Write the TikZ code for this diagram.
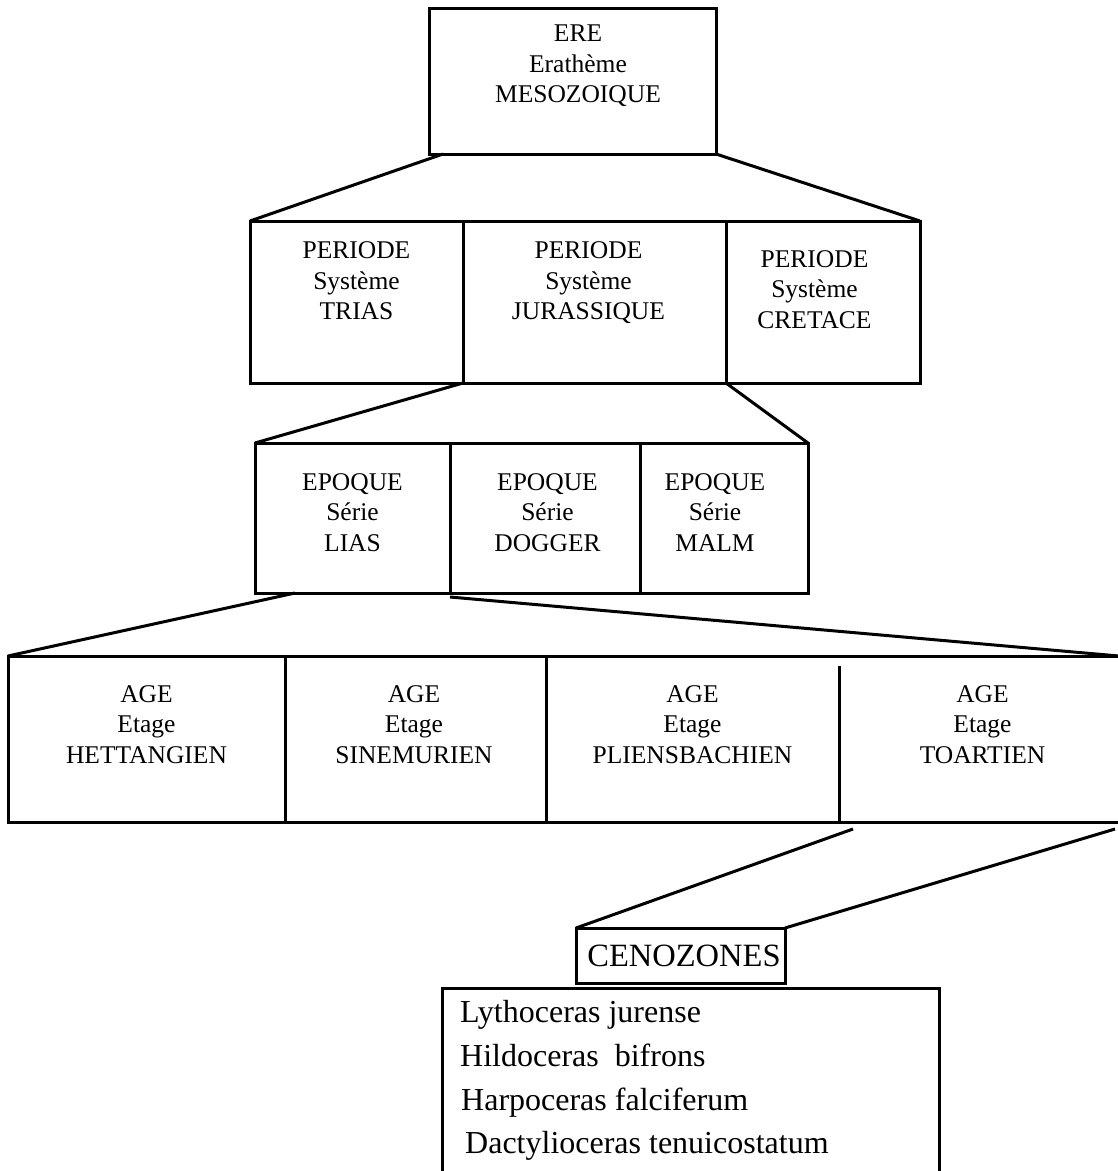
\documentclass[tikz,border=0pt]{standalone}
\usepackage{fontspec}
\setmainfont{Liberation Serif}
\usetikzlibrary{positioning}
\definecolor{inkblack}{RGB}{0,0,0}
\tikzset{
  cell/.style ={rectangle, draw=inkblack, line width=3pt, anchor=north west, inner sep=0pt, outer sep=0pt},
  bare/.style ={rectangle, anchor=north west, inner sep=0pt, outer sep=0pt},
  lbl/.style  ={align=center, inner sep=0pt, text=inkblack, font=\fontsize{25.5}{30.5}\selectfont},
  zone/.style ={rectangle, draw=inkblack, line width=3pt, inner sep=0pt, outer sep=0pt, font=\fontsize{32.5}{39}\selectfont},
  taxon/.style={anchor=base west, inner sep=0pt, font=\fontsize{32}{38}\selectfont},
  link/.style ={draw=inkblack, line width=3pt},
}
\begin{document}
\begin{tikzpicture}[x=1pt, y=-1pt]
\useasboundingbox (0,0) rectangle (1118,1171);
% era
\node[cell, minimum width=287, minimum height=146] (ere) at (429,8) {};
\node[lbl, below=17pt of ere.north, xshift=5.5pt] (ere-t) {ERE\\Erathème\\MESOZOIQUE};
% periods
\node[cell, minimum width=213, minimum height=162] (trias) at (250,221) {};
\node[cell, minimum width=263, minimum height=162] (jur) at (463,221) {};
\node[cell, minimum width=194, minimum height=162] (cret) at (726,221) {};
\node[lbl, below=20.5pt of trias.north] (trias-t) {PERIODE\\Système\\TRIAS};
\node[lbl, below=20.5pt of jur.north, xshift=-6pt] (jur-t) {PERIODE\\Système\\JURASSIQUE};
\node[lbl, below=29pt of cret.north, xshift=-8.5pt] (cret-t) {PERIODE\\Système\\CRETACE};
% epochs
\node[cell, minimum width=195, minimum height=150] (lias) at (255,443) {};
\node[cell, minimum width=190, minimum height=150] (dogger) at (450,443) {};
\node[cell, minimum width=168, minimum height=150] (malm) at (640,443) {};
\node[lbl, below=30pt of lias.north] (lias-t) {EPOQUE\\Série\\LIAS};
\node[lbl, below=30pt of dogger.north, xshift=2.5pt] (dogger-t) {EPOQUE\\Série\\DOGGER};
\node[lbl, below=30pt of malm.north, xshift=-9pt] (malm-t) {EPOQUE\\Série\\MALM};
% ages
\node[cell, minimum width=277, minimum height=166] (hett) at (8,656) {};
\node[cell, minimum width=261, minimum height=166] (sine) at (285,656) {};
\node[bare, minimum width=293, minimum height=166] (plie) at (546,656) {};
\node[bare, minimum width=280, minimum height=166] (toar) at (839,656) {};
\draw[link] (plie.north east) -- (plie.north west) -- (plie.south west) -- (plie.south east);
\draw[link] (toar.north west) -- (toar.north east);
\draw[link] (toar.south west) -- (toar.south east);
\draw[link] ([yshift=-10pt]toar.north west) -- (toar.south west);
\node[lbl, below=29pt of hett.north] (hett-t) {AGE\\Etage\\HETTANGIEN};
\node[lbl, below=29pt of sine.north, xshift=-1.5pt] (sine-t) {AGE\\Etage\\SINEMURIEN};
\node[lbl, below=29pt of plie.north] (plie-t) {AGE\\Etage\\PLIENSBACHIEN};
\node[lbl, below=29pt of toar.north, xshift=3.5pt] (toar-t) {AGE\\Etage\\TOARTIEN};
% zones
\node[zone, minimum width=209, minimum height=55] (ceno) at (680.5,955.5) {\hspace{7pt}CENOZONES};
\node[bare, minimum width=497, minimum height=184] (spec) at (442,988) {};
\draw[link] (spec.south west) -- (spec.north west) -- (spec.north east) -- (spec.south east);
\foreach \n/\xx/\yy/\t in {sp1/460/1022/Lythoceras jurense,
                           sp2/460/1066/Hildoceras\ \ bifrons,
                           sp3/461/1110/Harpoceras falciferum,
                           sp4/465/1153/Dactylioceras tenuicostatum}
  \node[taxon] (\n) at (\xx,\yy) {\t};
% connectors
\draw[link] ([xshift=14pt]ere.south west) -- (trias.north west);
\draw[link] (ere.south east) -- (cret.north east);
\draw[link] (jur.south west) -- (lias.north west);
\draw[link] (jur.south east) -- (malm.north east);
\draw[link] ([xshift=40pt]lias.south west) -- (hett.north west);
\draw[link] ([yshift=-4pt]dogger.south west) -- (toar.north east);
\draw[link] ([xshift=14pt,yshift=-7pt]toar.south west) -- (ceno.north west);
\draw[link] ([xshift=-4pt,yshift=-7pt]toar.south east) -- (ceno.north east);
\end{tikzpicture}
\end{document}
